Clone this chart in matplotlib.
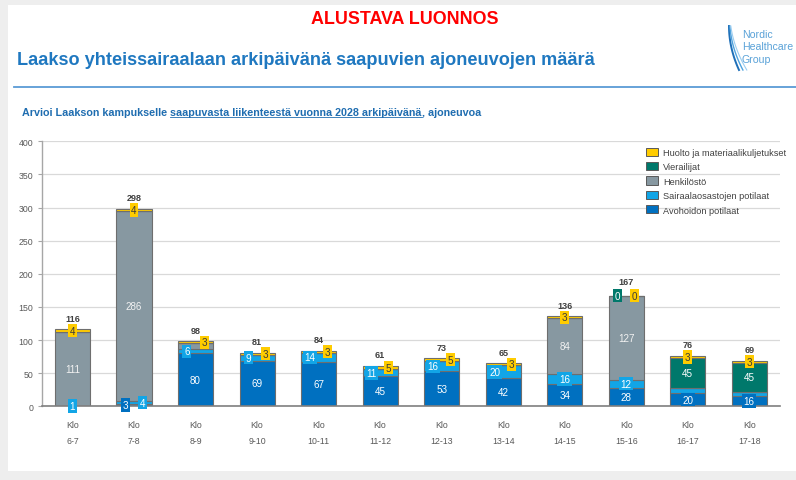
import matplotlib
matplotlib.use("Agg")
import matplotlib.pyplot as plt
import numpy as np
from matplotlib import font_manager
from matplotlib.patches import Rectangle, Patch
from matplotlib.lines import Line2D

# ---- data: vehicles arriving per hour on a weekday (2028 estimate) ----
slots = ["6-7", "7-8", "8-9", "9-10", "10-11", "11-12",
         "12-13", "13-14", "14-15", "15-16", "16-17", "17-18"]
avohoito    = [0, 3.4, 80, 69, 67, 45, 52.6, 42, 33.6, 28, 20, 16]
sairaala    = [1, 4.4, 6, 9, 14, 11, 15.6, 20, 15.6, 12, 8, 5]
henkilosto  = [111, 286.4, 9, 0, 0, 0, 0, 0, 83.6, 127, 0, 0]
vierailijat = [0, 0, 0, 0, 0, 0, 0, 0, 0, 0, 45, 45]
huolto      = [4, 3.8, 3, 3, 3, 5, 4.6, 3, 3.2, 0, 3, 3]

series_names = ["Avohoidon potilaat", "Sairaalaosastojen potilaat",
                "Henkilöstö", "Vierailijat", "Huolto ja materiaalikuljetukset"]
series_values = [avohoito, sairaala, henkilosto, vierailijat, huolto]
series_colors = ["#0070C0", "#12A5E6", "#8798A1", "#00786B", "#FFCC00"]
label_colors = ["white", "white", "#F2F2F2", "white", "#3A3A3A"]

# value-label placement: (slot, series) -> sideways shift, in slot units
label_shift = {
    (1, 0): -0.14, (1, 1): 0.14,
    (2, 1): -0.14, (2, 4): 0.14,
    (3, 1): -0.14, (3, 4): 0.14,
    (4, 1): -0.14, (4, 4): 0.14,
    (5, 1): -0.14, (5, 4): 0.14,
    (6, 1): -0.14, (6, 4): 0.14,
    (7, 1): -0.14, (7, 4): 0.14,
    (9, 3): -0.14, (9, 4): 0.14,
}
unlabeled = {(2, 2), (10, 1), (11, 1)}
zero_labeled = {(9, 3), (9, 4)}
total_lift = {9: 3}

# ---- fonts ----
def has_font(name):
    try:
        font_manager.findfont(font_manager.FontProperties(family=name),
                              fallback_to_default=False)
        return True
    except ValueError:
        return False

BASE = "Liberation Sans" if has_font("Liberation Sans") else "DejaVu Sans"
NARROW = "Liberation Sans Narrow" if has_font("Liberation Sans Narrow") else BASE
plt.rcParams["font.family"] = [BASE, "DejaVu Sans"]

W, H = 796, 481
def fx(px):
    return px / W
def fy(py):
    return 1 - py / H

fig = plt.figure(figsize=(W / 100, H / 100), dpi=100)
fig.patch.set_facecolor("#EEEEEE")
fig.add_artist(Rectangle((fx(8), fy(472)), fx(796) - fx(8), fy(6) - fy(472),
                         transform=fig.transFigure, fc="white", ec="none", zorder=0))
renderer = fig.canvas.get_renderer()

def fit_width(t, target_px):
    w = t.get_window_extent(renderer).width
    t.set_fontsize(t.get_fontsize() * target_px / w)
    return t

# ---- headings ----
fit_width(fig.text(fx(405), fy(24), "ALUSTAVA LUONNOS", family=[NARROW, BASE],
                   fontsize=12, fontweight="bold", color="#FF0000",
                   ha="center", va="baseline"), 186)
fit_width(fig.text(fx(17), fy(65), "Laakso yhteissairaalaan arkipäivänä saapuvien ajoneuvojen määrä",
                   family=[NARROW, BASE], fontsize=13, fontweight="bold",
                   color="#1F78C0", ha="left", va="baseline"), 573)
fig.add_artist(Line2D([fx(14), fx(796)], [fy(88), fy(88)], transform=fig.transFigure,
                      color="#5B9BD5", lw=1.3))

# subtitle with an underlined middle part
sub_parts = ["Arvioi Laakson kampukselle", "saapuvasta liikenteestä vuonna 2028 arkipäivänä",
             ", ajoneuvoa"]
sub_kw = dict(family=[NARROW, BASE], fontweight="bold", color="#1F6DB0",
              ha="left", va="baseline")
probe = fig.text(0, 0, sub_parts[0] + " " + sub_parts[1] + sub_parts[2], fontsize=7, **sub_kw)
fit_width(probe, 460)
sub_fs = probe.get_fontsize()
probe.remove()
def text_w(s):
    t = fig.text(0, 0, s, fontsize=sub_fs, **sub_kw)
    w = t.get_window_extent(renderer).width
    t.remove()
    return w
space_w = text_w("a a") - text_w("aa")
x0 = 22
fig.text(fx(x0), fy(116), sub_parts[0], fontsize=sub_fs, **sub_kw)
x1 = x0 + text_w(sub_parts[0]) + space_w
fig.text(fx(x1), fy(116), sub_parts[1], fontsize=sub_fs, **sub_kw)
x2 = x1 + text_w(sub_parts[1])
fig.text(fx(x2), fy(116), sub_parts[2], fontsize=sub_fs, **sub_kw)
fig.add_artist(Line2D([fx(x1), fx(x2)], [fy(118), fy(118)], transform=fig.transFigure,
                      color="#1F6DB0", lw=0.6))

# logo
logo_words = []
for i, word in enumerate(["Nordic", "Healthcare", "Group"]):
    logo_words.append(fig.text(fx(742), fy(38 + 12.3 * i), word, family=[NARROW, BASE],
                               fontsize=8.2, color="#5AA2D8", ha="left", va="baseline"))
scale = 51 / logo_words[1].get_window_extent(renderer).width
for t in logo_words:
    t.set_fontsize(t.get_fontsize() * scale)
tt = np.linspace(0, 1, 40)
for dx, col, lw in [(0, "#1E6FB8", 1.4), (3, "#4FA3DE", 1.0), (6, "#9CCDF0", 0.8)]:
    xs = 729 + dx * tt + 10 * tt ** 2 + dx * 0.3
    ys = 27 + 44 * tt
    fig.add_artist(Line2D(fx(xs), fy(ys), transform=fig.transFigure, color=col, lw=lw))

# ---- chart ----
ax = fig.add_axes([fx(41.7), fy(407.3), fx(780) - fx(41.7), fy(142.3) - fy(407.3)])
ax.set_facecolor("none")
x = np.arange(len(slots))
bw = 0.57
bottom = np.zeros(len(slots))
for s, (vals, col) in enumerate(zip(series_values, series_colors)):
    vals = np.asarray(vals, dtype=float)
    ax.bar(x, vals, bw, bottom=bottom, color=col, edgecolor="#6E6E6E", lw=0.8,
           label=series_names[s], zorder=2)
    for i, v in enumerate(vals):
        if (i, s) in unlabeled:
            continue
        if v <= 0 and (i, s) not in zero_labeled:
            continue
        ax.text(x[i] + label_shift.get((i, s), 0), bottom[i] + v / 2, f"{round(v)}",
                ha="center", va="center", fontsize=7.1, color=label_colors[s], zorder=4,
                bbox=dict(boxstyle="square,pad=0.17", fc=col, ec="none"))
    bottom += vals

totals = bottom
for i, t in enumerate(totals):
    ax.annotate(f"{round(t)}", (x[i], t), xytext=(0, 11 + total_lift.get(i, 0)),
                textcoords="offset pixels", ha="center", va="center",
                fontsize=6.5, fontweight="bold", color="#404040", zorder=5)

ax.set_xlim(-0.5, len(slots) - 0.5)
ax.set_ylim(0, 400)
ax.set_yticks(np.arange(0, 401, 50))
ax.set_xticks(x, [f"Klo\n{s}" for s in slots])
for lbl in ax.get_xticklabels():
    lbl.set_linespacing(1.95)
ax.tick_params(axis="x", length=0, pad=10, labelsize=6.3, labelcolor="#595959")
ax.tick_params(axis="y", length=3, width=0.8, color="#A6A6A6", pad=3,
               labelsize=6.3, labelcolor="#595959")
ax.yaxis.grid(True, color="#D9D9D9", lw=0.9, zorder=0)
ax.set_axisbelow(True)
for side in ("top", "right"):
    ax.spines[side].set_visible(False)
ax.spines["left"].set_color("#A6A6A6")
ax.spines["left"].set_linewidth(1.0)
ax.spines["bottom"].set_color("#7F7F7F")
ax.spines["bottom"].set_linewidth(1.2)

handles = [Patch(fc=c, ec="#595959", lw=0.7) for c in series_colors][::-1]
leg = ax.legend(handles, series_names[::-1], loc="upper left",
                bbox_to_anchor=(fx(646), fy(148.5)), bbox_transform=fig.transFigure,
                frameon=False, fontsize=6.55, handlelength=1.35, handleheight=1.0,
                labelspacing=0.58, handletextpad=0.5, borderpad=0, borderaxespad=0)
for t in leg.get_texts():
    t.set_color("#404040")

fig.savefig("out.png", dpi=100, facecolor=fig.get_facecolor())
